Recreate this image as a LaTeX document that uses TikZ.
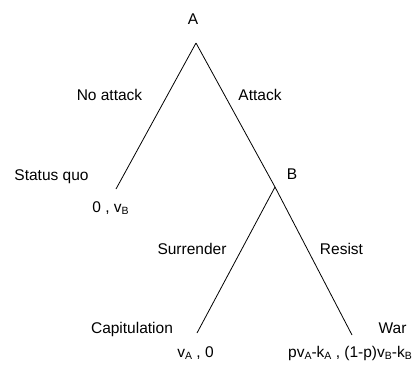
\documentclass[tikz,border=0pt]{standalone}
\usepackage{fontspec}
\setmainfont{Liberation Sans}
\newcommand\lowsub[1]{\raisebox{-0.3ex}{\fontsize{10.5}{10.5}\selectfont #1}}
\begin{document}
\begin{tikzpicture}[x=1pt,y=-1pt,
  lbl/.style={font=\fontsize{15.5}{18}\selectfont, inner sep=0pt, anchor=base},
  branch/.style={line width=0.8pt, black}]
\useasboundingbox (0,0) rectangle (417,373);
\coordinate (nA) at (196,43);
\coordinate (nB) at (275,187);
\coordinate (tSQ) at (116,189);
\coordinate (tCap) at (197,333);
\coordinate (tWar) at (352,335);
\draw[branch] (nA) -- (tSQ);
\draw[branch] (nA) -- (nB);
\draw[branch] (nB) -- (tWar);
\draw[branch] (nB) -- (tCap);
\node[lbl] (lA) at (193,24.5) {A};
\node[lbl] (lNo) at (109.5,100.5) {No attack};
\node[lbl] (lAt) at (260,100.5) {Attack};
\node[lbl] (lSQ) at (51.5,180.5) {Status quo};
\node[lbl] (pSQ) at (110.5,212.5) {0 , v\lowsub{B}};
\node[lbl] (lB) at (292,179.5) {B};
\node[lbl] (lSu) at (192,254.5) {Surrender};
\node[lbl] (lRe) at (341.5,254.5) {Resist};
\node[lbl] (lCap) at (132,333.5) {Capitulation};
\node[lbl] (lWar) at (392.5,333.5) {War};
\node[lbl] (pCap) at (195.5,357.5) {v\lowsub{A} , 0};
\node[lbl] (pWar) at (350,357.5) {pv\lowsub{A}-k\lowsub{A} , (1-p)v\lowsub{B}-k\lowsub{B}};
\end{tikzpicture}
\end{document}
